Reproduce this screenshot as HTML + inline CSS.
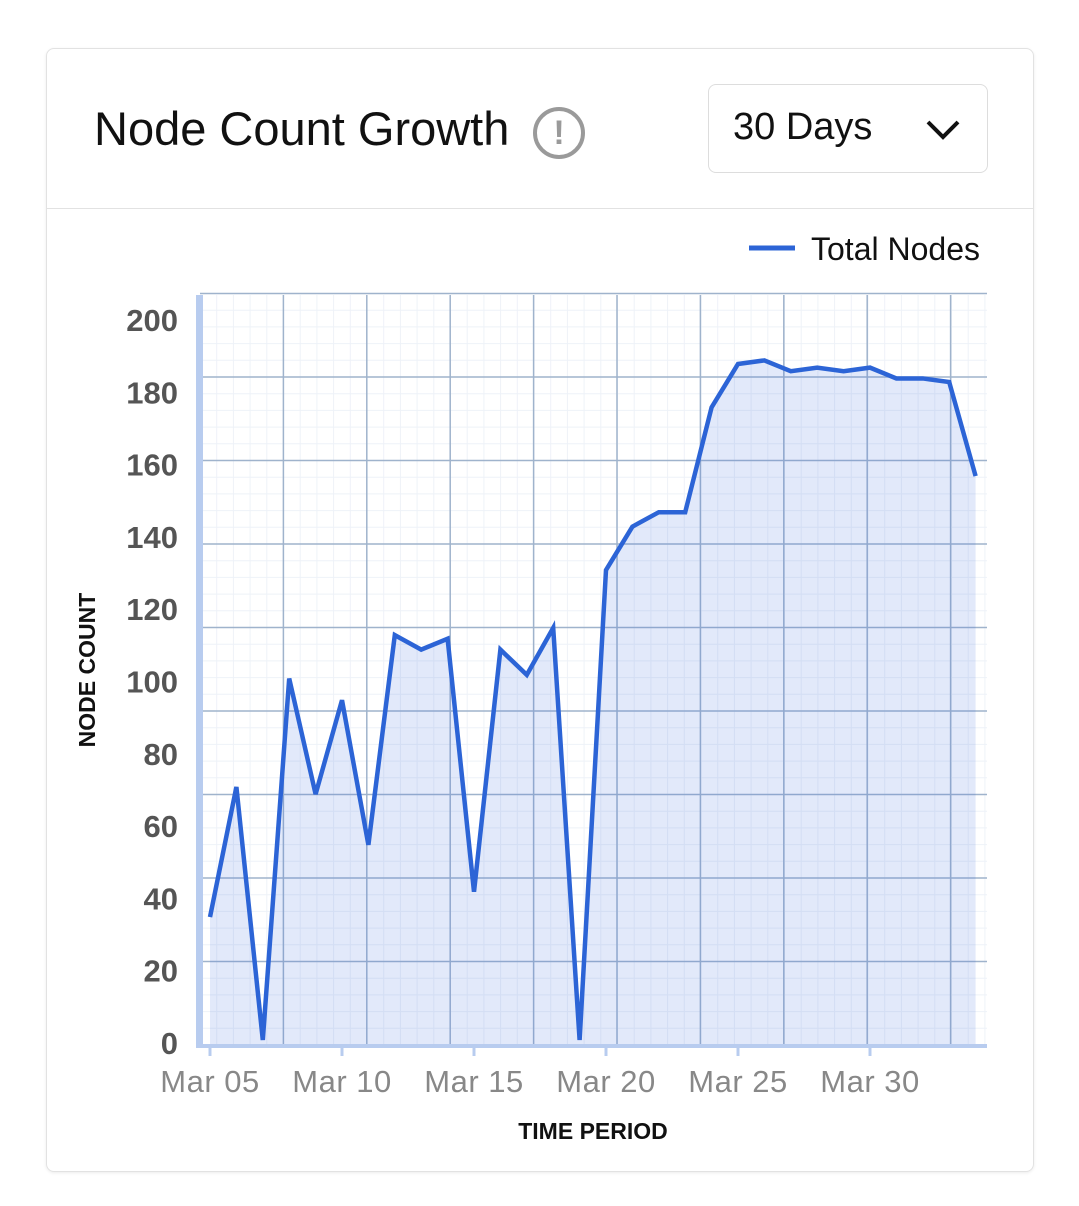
<!DOCTYPE html>
<html><head><meta charset="utf-8"><style>
body{margin:0;width:1079px;height:1206px;background:#fff;font-family:"Liberation Sans",sans-serif;overflow:hidden}
.card{position:absolute;left:46px;top:48px;width:986px;height:1122px;border:1px solid #e2e2e2;border-radius:8px;box-shadow:0 1px 3px rgba(0,0,0,.08)}
.title{position:absolute;left:47px;top:52px;font-size:47px;color:#111}
.info{position:absolute;left:486px;top:58px;width:44px;height:44px;border:4px solid #9a9a9a;border-radius:50%;color:#9a9a9a;font-weight:bold;font-size:34px;text-align:center;line-height:44px;box-sizing:content-box}
.sel{position:absolute;left:661px;top:35px;width:278px;height:87px;border:1px solid #ddd;border-radius:8px;font-size:38px;color:#111}
.div{position:absolute;left:0;top:159px;width:986px;height:1px;background:#e2e2e2}
</style></head><body>
<div class="card">
<div class="title">Node Count Growth</div>
<div class="info">!</div>
<div class="sel"><span style="position:absolute;left:24px;top:21px">30 Days</span>
<svg style="position:absolute;left:216px;top:34px" width="36" height="22"><polyline points="3,3 18,18 33,3" fill="none" stroke="#111" stroke-width="4"/></svg></div>
<div class="div"></div>
</div>
<svg id="chart" width="1079" height="1206" style="position:absolute;left:0;top:0"></svg>
<script>
const dates=["Mar 05","Mar 10","Mar 15","Mar 20","Mar 25","Mar 30"];
const tickIdx=[0,5,10,15,20,25];
const values=[34,70,0,100,68,94,54,112,108,111,41,108,101,114,0,130,142,146,146,175,187,188,185,186,185,186,183,183,182,156];
const yTicks=[0,20,40,60,80,100,120,140,160,180,200];
const svg=document.getElementById('chart');
const NS='http://www.w3.org/2000/svg';
function x(i){return 210+i*26.4;}
function y(v){return 1040-v*3.615;}
function mk(t,a,p){const e=document.createElementNS(NS,t);for(const k in a)e.setAttribute(k,a[k]);(p||svg).appendChild(e);return e;}
const L=200,R=987,T=295,B=1045;
for(let gx=L;gx<=R;gx+=16.7){const e=mk('line',{x1:gx,x2:gx,y1:T,y2:B,stroke:'#eef2f8','stroke-width':1});}
for(let gy=B;gy>=T;gy-=16.7){const e=mk('line',{x1:L,x2:R,y1:gy,y2:gy,stroke:'#eef2f8','stroke-width':1});}
for(let k=1;k<=9;k++){const gx=L+k*83.4;const e=mk('line',{x1:gx,x2:gx,y1:T,y2:B,stroke:'#9fb3cc','stroke-width':1.5});}
for(let k=1;k<=9;k++){const gy=B-k*83.5;const e=mk('line',{x1:L,x2:R,y1:gy,y2:gy,stroke:'#9fb3cc','stroke-width':1.5});}
let pts=values.map((v,i)=>x(i)+','+y(v)).join(' ');
const area=mk('polygon',{points:x(0)+','+B+' '+pts+' '+x(values.length-1)+','+B,fill:'rgba(60,110,220,0.15)'});

const line=mk('polyline',{points:pts,fill:'none',stroke:'#2c64d6','stroke-width':4.5,'stroke-linejoin':'miter'});

const ya=mk('rect',{x:196,y:T,width:7,height:B-T+3,fill:'#b8ccef'});
const xa=mk('rect',{x:196,y:B-1,width:R-196,height:4,fill:'#b8ccef'});
yTicks.forEach((v,k)=>{const t=mk('text',{x:178,y:1043-k*72.3+11,'text-anchor':'end','font-size':31,fill:'#555','font-weight':600});t.textContent=v;});
dates.forEach((d,k)=>{const i=tickIdx[k];const tm=mk('line',{x1:x(i),x2:x(i),y1:B,y2:B+11,stroke:'#b8ccef','stroke-width':3});
const t=mk('text',{x:x(i),y:1092,'text-anchor':'middle','font-size':31,fill:'#888','letter-spacing':'0.5'});t.textContent=d;});
const xt=mk('text',{x:593,y:1139,'text-anchor':'middle','font-size':23,fill:'#111','font-weight':600});xt.textContent='TIME PERIOD';
const yt=mk('text',{x:95,y:670,'text-anchor':'middle','font-size':23,fill:'#111','font-weight':600,transform:'rotate(-90 95 670)'});yt.textContent='NODE COUNT';
const ll=mk('line',{x1:749,x2:795,y1:248,y2:248,stroke:'#2c64d6','stroke-width':5});
const lt=mk('text',{x:811,y:260,'font-size':32,fill:'#111'});lt.textContent='Total Nodes';
</script>
</body></html>
